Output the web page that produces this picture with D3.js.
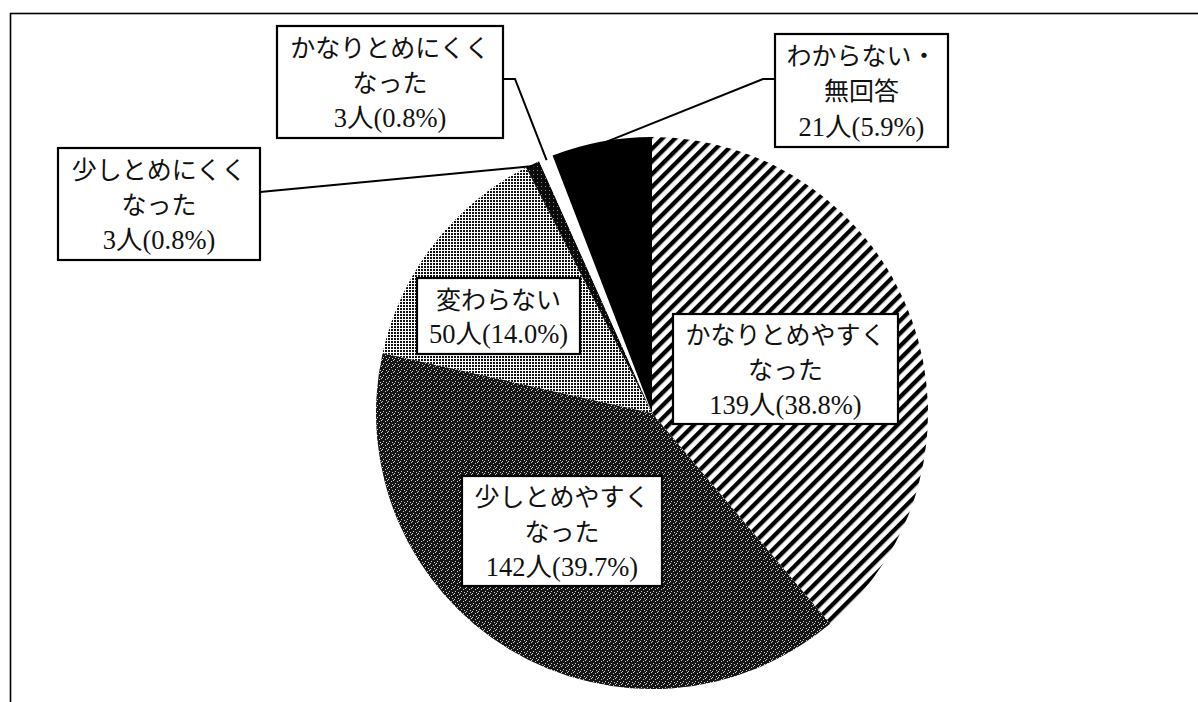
<!DOCTYPE html>
<html><head><meta charset="utf-8">
<script src="https://cdn.jsdelivr.net/npm/d3@7"></script>
<style>html,body{margin:0;padding:0;background:#fff;overflow:hidden}</style>
</head><body>
<svg id="chart" width="1198" height="702"></svg>
<script>
// ---- data ----
const categories = ["かなりとめやすくなった","少しとめやすくなった","変わらない","少しとめにくくなった","かなりとめにくくなった","わからない・無回答"];
const labelLines = [["かなりとめやすく","なった"],["少しとめやすく","なった"],["変わらない"],["少しとめにくく","なった"],["かなりとめにくく","なった"],["わからない・","無回答"]];
const counts = [139,142,50,3,3,21];
const percents = [38.8,39.7,14.0,0.8,0.8,5.9];

// ---- layout (not data) ----
const W = 1198, H = 702;
const cx = 652, cy = 413, R = 276;
const fills = ["url(#hatch)","url(#darkTex)","url(#dots)","url(#darkSliver)","#ffffff","#000000"];
const boxes = [
  {x:673, y:314, w:225, h:110},
  {x:462, y:476, w:200, h:110},
  {x:417, y:278, w:163, h:76},
  {x:58,  y:148, w:202, h:112, leader:{side:"right", dy:44, stub:0}},
  {x:277, y:26,  w:226, h:112, leader:{side:"right", dy:53, stub:12}},
  {x:775, y:34,  w:173, h:113, leader:{side:"left",  dy:45, stub:12}}
];

const svg = d3.select("#chart");
const defs = svg.append("defs");

// diagonal hatch
const hatch = defs.append("pattern").attr("id","hatch").attr("patternUnits","userSpaceOnUse")
  .attr("width",9).attr("height",9).attr("patternTransform","rotate(45)");
hatch.append("rect").attr("width",9).attr("height",9).attr("fill","#fff");
hatch.append("rect").attr("width",4.3).attr("height",9).attr("fill","#000");

// dark speckled texture
const dark = defs.append("pattern").attr("id","darkTex").attr("patternUnits","userSpaceOnUse")
  .attr("width",6).attr("height",6);
dark.append("rect").attr("width",6).attr("height",6).attr("fill","#151515");
[[0,0],[3,2],[1,4],[4,5],[5,1]].forEach(([x,y])=>{
  dark.append("rect").attr("x",x).attr("y",y).attr("width",1).attr("height",1).attr("fill","#d0d0d0");
});

// dark sliver
const ds = defs.append("pattern").attr("id","darkSliver").attr("patternUnits","userSpaceOnUse")
  .attr("width",4).attr("height",4);
ds.append("rect").attr("width",4).attr("height",4).attr("fill","#0a0a0a");
ds.append("rect").attr("x",1).attr("y",1).attr("width",1).attr("height",1).attr("fill","#888");

// light dot stipple
const dots = defs.append("pattern").attr("id","dots").attr("patternUnits","userSpaceOnUse")
  .attr("width",3).attr("height",3);
dots.append("rect").attr("width",3).attr("height",3).attr("fill","#fff");
dots.append("rect").attr("width",2).attr("height",2).attr("fill","#111");

// frame
svg.append("rect").attr("x",10.5).attr("y",13.5).attr("width",W+40).attr("height",H+40)
  .attr("fill","none").attr("stroke","#000").attr("stroke-width",1.6);

// pie
const pie = d3.pie().sort(null).value(d=>d).startAngle(0).endAngle(2*Math.PI);
const arcs = pie(counts);
const arc = d3.arc().innerRadius(0).outerRadius(R);
const edgeArc = d3.arc().innerRadius(R-2).outerRadius(R-2);

const g = svg.append("g").attr("transform",`translate(${cx},${cy})`);
g.selectAll("path.slice").data(arcs).join("path").attr("class","slice")
  .attr("d",arc).attr("fill",(d,i)=>fills[i]).attr("shape-rendering","geometricPrecision");

// leader lines
arcs.forEach((d,i)=>{
  const b = boxes[i];
  if(!b.leader) return;
  const c = edgeArc.centroid(d);
  const end = [cx + c[0], cy + c[1]];
  const sx = b.leader.side === "right" ? b.x + b.w : b.x;
  const sy = b.y + b.leader.dy;
  const dir = b.leader.side === "right" ? 1 : -1;
  const pts = [[sx,sy],[sx + dir*b.leader.stub, sy], end];
  svg.append("path").attr("d", d3.line()(pts)).attr("fill","none")
    .attr("stroke","#000").attr("stroke-width",2);
});

// label boxes
const fontFamily = "'Liberation Serif','Noto Sans CJK JP',serif";
arcs.forEach((d,i)=>{
  const b = boxes[i];
  const lg = svg.append("g");
  lg.append("rect").attr("x",b.x).attr("y",b.y).attr("width",b.w).attr("height",b.h)
    .attr("fill","#fff").attr("stroke","#000").attr("stroke-width",2.2);
  const lines = labelLines[i].concat([`${counts[i]}人(${percents[i].toFixed(1)}%)`]);
  const sp = lines.length === 3 ? 35 : 33;
  const mid = b.y + b.h/2;
  lines.forEach((t,k)=>{
    const isCount = k === lines.length - 1;
    lg.append("text").attr("x", b.x + b.w/2).attr("y", mid + (k-(lines.length-1)/2)*sp + 1)
      .attr("text-anchor","middle").attr("dominant-baseline","central")
      .attr("font-family",fontFamily).attr("font-size", isCount ? 26.5 : 25).attr("fill","#111")
      .text(t);
  });
});
</script>
</body></html>
